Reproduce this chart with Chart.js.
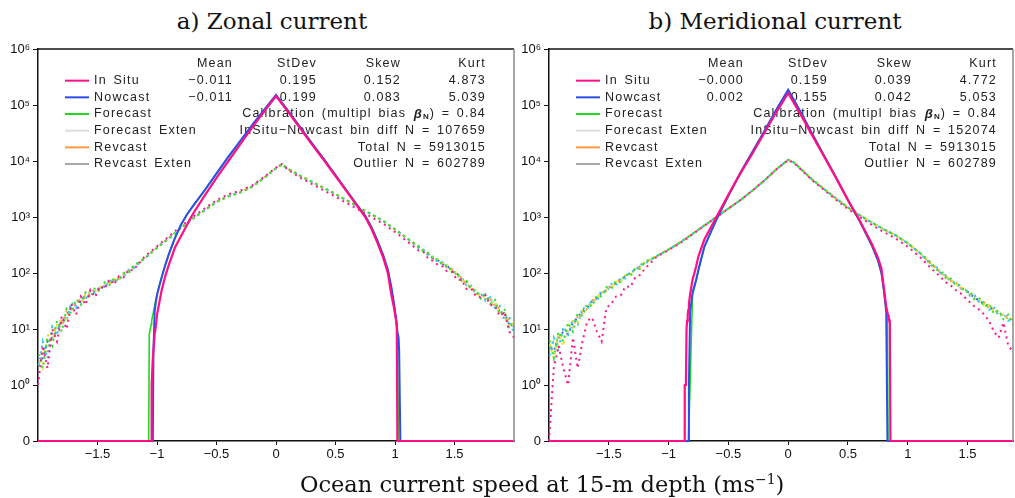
<!DOCTYPE html>
<html>
<head>
<meta charset="utf-8">
<script src="https://cdn.jsdelivr.net/npm/chart.js@4.4.1/dist/chart.umd.min.js"></script>
<style>
  html, body { margin: 0; padding: 0; background: #fff; }
  body { width: 1015px; height: 498px; position: relative; overflow: hidden; }
  canvas { position: absolute; top: 0; }
  #zonalChart { left: 0; }
  #meridChart { left: 511px; }
  .title {
    position: absolute; top: 7px; transform: translateX(-50%);
    font-family: 'DejaVu Serif', serif; font-size: 23px; line-height: 28px;
    color: #111; white-space: nowrap;
  }
  #xTitle { top: 470px; left: 300px; transform: none; font-size: 22.5px; }
  #xTitle sup { font-size: 14px; line-height: 0; }
</style>
</head>
<body>
<div class="title" style="left:272px">a) Zonal current</div>
<div class="title" style="left:775px">b) Meridional current</div>
<canvas id="zonalChart" width="520" height="498"></canvas>
<canvas id="meridChart" width="504" height="498"></canvas>
<div class="title" id="xTitle">Ocean current speed at 15-m depth (ms<sup>−1</sup>)</div>
<script>
// axis ticks
const yTickValues = [0.1, 1, 10, 100, 1e3, 1e4, 1e5, 1e6];
const yTickLabels = ['0', '10⁰', '10¹', '10²', '10³', '10⁴', '10⁵', '10⁶'];
const xTickValues = [-1.5, -1, -0.5, 0, 0.5, 1, 1.5];
const xTickLabels = ['−1.5', '−1', '−0.5', '0', '0.5', '1', '1.5'];

// legend + stats table
const legendNames = ['In Situ', 'Nowcast', 'Forecast', 'Forecast Exten', 'Revcast', 'Revcast Exten'];
const legendColors = ['#ff0f87', '#2b4fe8', '#22d822', '#dedede', '#ff9a40', '#a8a8a8'];
const statHeaders = ['Mean', 'StDev', 'Skew', 'Kurt'];
const zonalInSituStats = ['−0.011', '0.195', '0.152', '4.873'];
const zonalNowcastStats = ['−0.011', '0.199', '0.083', '5.039'];
const meridInSituStats = ['−0.000', '0.159', '0.039', '4.772'];
const meridNowcastStats = ['0.002', '0.155', '0.042', '5.053'];
const calibration = '0.84';
const zonalBinDiff = 107659;
const meridBinDiff = 152074;
const totalN = 5913015;
const outlierN = 602789;

// bin centres of the solid (speed) histograms
const zonalSolidX = [-2.0, -1.07, -1.065, -1.05, -1.045, -1.035, -1.03, -1.02, -1.01, -1.0, -0.98, -0.96, -0.93, -0.9, -0.85, -0.8, -0.75, -0.7, -0.6, -0.5, -0.4, -0.3, -0.2, -0.1, 0, 0.1, 0.2, 0.3, 0.4, 0.5, 0.6, 0.7, 0.75, 0.8, 0.85, 0.9, 0.94, 0.97, 0.99, 1.005, 1.015, 1.02, 1.03, 1.035, 1.045, 2.0];
const zonalInSitu = [0, 0, 0, 0, 1, 3, 4, 8, 11, 18, 30, 50, 89, 141, 282, 447, 708, 1120, 2400, 5000, 10000, 20000, 40000, 76000, 145000, 76000, 39000, 20000, 10500, 5400, 2750, 1400, 1000, 630, 355, 190, 100, 40, 25, 16, 12, 0, 0, 0, 0, 0];
const zonalNowcast = [0, 0, 0, 0, 0, 0, 4, 20, 30, 40, 60, 85, 140, 220, 420, 720, 1100, 1550, 3000, 6000, 12000, 23000, 44000, 82000, 152000, 80000, 41000, 21000, 11000, 5600, 2850, 1450, 1050, 680, 390, 210, 115, 55, 30, 18, 12, 9, 7, 4, 0, 0];
const zonalForecast = [0, 0, 8, 12, 14, 18, 20, 26, 33, 42, 60, 85, 140, 215, 410, 700, 1080, 1530, 2950, 5900, 11800, 22500, 43000, 80000, 148000, 79000, 40500, 20800, 10900, 5550, 2830, 1440, 1040, 670, 385, 205, 112, 52, 28, 16, 10, 7, 0, 0, 0, 0];

const meridSolidX = [-2.0, -0.875, -0.87, -0.865, -0.855, -0.85, -0.845, -0.84, -0.835, -0.83, -0.82, -0.8, -0.77, -0.75, -0.7, -0.6, -0.5, -0.4, -0.3, -0.2, -0.1, 0, 0.1, 0.2, 0.3, 0.4, 0.5, 0.6, 0.7, 0.75, 0.78, 0.8, 0.82, 0.83, 0.835, 0.84, 0.85, 0.855, 0.86, 2.0];
const meridInSitu = [0, 0, 0, 1, 1, 10, 14, 18, 22, 28, 42, 75, 130, 200, 400, 1000, 2500, 6000, 13500, 31600, 74000, 162000, 70000, 29000, 12000, 5000, 2000, 850, 330, 190, 120, 55, 25, 20, 18, 16, 14, 0, 0, 0];
const meridNowcast = [0, 0, 0, 0, 0, 0, 0, 0, 0, 1, 20, 45, 75, 115, 300, 900, 2400, 6200, 14500, 34000, 82000, 188000, 78000, 31000, 12500, 5100, 2000, 830, 310, 170, 100, 50, 20, 0, 0, 0, 0, 0, 0, 0];
const meridForecast = [0, 0, 0, 0, 0, 0, 0, 0, 0, 0, 1, 40, 72, 112, 295, 890, 2380, 6100, 14300, 33500, 81000, 184000, 77000, 30800, 12400, 5050, 1990, 825, 305, 168, 98, 48, 22, 15, 0, 0, 0, 0, 0, 0];

// bin centres of the dotted (wide) histograms: left tail, core, right tail
const tailLeftX = [-2.0, -1.96, -1.92, -1.88, -1.84, -1.80, -1.76, -1.72, -1.68, -1.64, -1.60, -1.56, -1.52, -1.48, -1.44, -1.40, -1.36, -1.32, -1.28, -1.24, -1.20];
const coreX = [-1.1, -1.0, -0.9, -0.8, -0.7, -0.6, -0.5, -0.4, -0.3, -0.2, -0.1, 0, 0.05, 0.1, 0.2, 0.3, 0.4, 0.5, 0.6, 0.7, 0.8, 0.9, 1.0, 1.1];
const tailRightX = [1.20, 1.24, 1.28, 1.32, 1.36, 1.40, 1.44, 1.48, 1.52, 1.56, 1.60, 1.64, 1.68, 1.72, 1.76, 1.80, 1.84, 1.88, 1.92, 1.96, 2.00];

// zonal dotted counts (core is shared where the colours overlap)
const zonalCoreShared = [186, 282, 417, 631, 933, 1318, 1862, 2344, 2754, 3467, 5012, 7413, 8710, 7244, 5495, 4266, 3311, 2570, 1950, 1479, 1122, 851, 603, 417];
const zonalCoreMagenta = [200, 300, 450, 680, 1000, 1420, 2000, 2550, 2950, 3650, 5200, 7600, 8800, 7000, 5100, 3900, 3000, 2300, 1750, 1320, 1000, 760, 540, 370];
const zonalLeftMagenta = [1, 5, 2, 10, 6, 17, 10, 28, 18, 38, 27, 50, 37, 58, 52, 78, 62, 88, 84, 115, 112];
const zonalLeftGreen = [4, 2, 7, 5, 14, 9, 23, 19, 34, 27, 45, 36, 55, 46, 68, 61, 82, 72, 101, 98, 134];
const zonalLeftCyan = [2, 6, 3, 11, 8, 16, 14, 30, 24, 37, 34, 48, 44, 58, 55, 74, 69, 85, 86, 114, 119];
const zonalLeftYellow = [3, 2, 8, 6, 12, 15, 15, 25, 32, 29, 42, 46, 47, 56, 64, 63, 79, 77, 98, 102, 131];
const zonalLeftOrange = [2, 4, 4, 9, 11, 11, 21, 22, 29, 35, 36, 44, 52, 50, 61, 71, 70, 82, 91, 110, 124];
const zonalLeftBlue = [3, 3, 6, 7, 9, 14, 17, 26, 27, 31, 40, 41, 49, 54, 57, 69, 76, 77, 95, 105, 128];
const zonalRightMagenta = [250, 235, 180, 165, 140, 130, 105, 104, 76, 75, 52, 53, 38, 37, 40, 27, 26, 17, 20, 9, 7];
const zonalRightGreen = [300, 240, 228, 175, 176, 137, 138, 104, 102, 72, 72, 50, 50, 35, 42, 28, 33, 18, 23, 10, 14];
const zonalRightCyan = [276, 262, 200, 196, 156, 156, 120, 120, 88, 85, 60, 60, 41, 45, 32, 37, 24, 26, 14, 17, 8];
const zonalRightYellow = [305, 244, 230, 180, 176, 142, 138, 104, 104, 74, 74, 51, 49, 37, 38, 29, 31, 19, 21, 11, 13];
const zonalRightOrange = [285, 255, 208, 191, 160, 152, 124, 117, 90, 83, 62, 58, 42, 43, 34, 35, 25, 24, 15, 15, 9];
const zonalRightBlue = [290, 249, 220, 182, 170, 144, 133, 108, 99, 76, 69, 52, 48, 38, 40, 30, 30, 20, 19, 12, 11];

// meridional dotted counts
const meridCoreShared = [200, 263, 355, 500, 708, 1000, 1413, 1995, 2951, 4467, 7079, 10500, 9330, 7413, 4677, 3162, 2138, 1479, 1072, 794, 603, 468, 339, 229];
const meridCoreMagenta = [195, 256, 345, 490, 700, 990, 1410, 2000, 2950, 4480, 7050, 10400, 9200, 7250, 4550, 3050, 2030, 1390, 990, 720, 540, 410, 295, 195];
const meridLeftMagenta = [0, 2, 5, 2, 1, 7, 2, 6, 14, 16, 9, 6, 24, 28, 38, 40, 58, 56, 82, 92, 118];
const meridLeftGreen = [7, 3, 9, 6, 13, 9, 19, 17, 28, 25, 40, 38, 56, 52, 72, 68, 95, 86, 122, 118, 158];
const meridLeftCyan = [3, 7, 4, 11, 8, 15, 12, 24, 22, 34, 31, 49, 45, 64, 60, 82, 80, 108, 106, 140, 146];
const meridLeftYellow = [6, 3, 8, 5, 12, 14, 13, 22, 27, 27, 38, 42, 53, 54, 70, 71, 92, 94, 120, 126, 156];
const meridLeftOrange = [4, 6, 5, 10, 9, 11, 17, 19, 23, 33, 33, 47, 47, 62, 63, 80, 84, 104, 110, 136, 149];
const meridLeftBlue = [5, 4, 7, 9, 8, 13, 16, 21, 24, 31, 35, 45, 49, 60, 65, 78, 88, 99, 117, 130, 152];
const meridRightMagenta = [118, 100, 82, 68, 60, 50, 44, 36, 30, 25, 22, 18, 14, 9, 7, 13, 5, 4, 10, 5, 7];
const meridRightGreen = [150, 114, 108, 80, 80, 60, 61, 45, 48, 33, 35, 25, 28, 19, 22, 15, 18, 12, 14, 9, 12];
const meridRightCyan = [135, 128, 94, 91, 69, 70, 52, 53, 39, 40, 29, 31, 22, 25, 17, 19, 14, 16, 11, 13, 8];
const meridRightYellow = [146, 117, 105, 82, 78, 62, 59, 47, 46, 34, 34, 26, 27, 20, 21, 16, 17, 13, 13, 10, 11];
const meridRightOrange = [138, 124, 97, 88, 72, 68, 54, 51, 41, 38, 30, 30, 23, 23, 18, 18, 15, 15, 12, 12, 9];
const meridRightBlue = [143, 119, 102, 84, 75, 64, 57, 48, 44, 35, 33, 27, 26, 21, 20, 16, 17, 13, 13, 10, 10];

const AXIS_FLOOR = 0.1; // bottom of the log axis, labelled "0" (empty bins sit here)
const textFont = '"Liberation Sans", Arial, sans-serif';
const dotX = tailLeftX.concat(coreX, tailRightX);

function toPoints(xs, ns) {
    return xs.map((x, i) => ({ x: x, y: ns[i] > 0 ? ns[i] : AXIS_FLOOR }));
}

function solidSet(xs, ns, color, width, order) {
    return {
        data: toPoints(xs, ns), borderColor: color, borderWidth: width,
        pointRadius: 0, tension: 0, order: order, clip: { left: 1, right: 1, top: 0, bottom: 3 }
    };
}

// all dotted sets use the same 6px period; magenta sits in the gaps of the others
function dotSet(left, core, right, color, offset, order) {
    return {
        data: toPoints(dotX, left.concat(core, right)), borderColor: color, borderWidth: 2,
        borderDash: [2, 4], borderDashOffset: offset, borderCapStyle: 'butt',
        pointRadius: 0, tension: 0, order: order, clip: 1
    };
}

function panelText(inSituStats, nowcastStats, binDiff) {
    return {
        id: 'panelText',
        beforeDatasetsDraw(chart) {
            const ctx = chart.ctx;
            const a = chart.chartArea;
            const cols = [195, 279, 363, 448].map(c => a.left + c);
            const rowY = i => a.top + 15 + i * 16.67;
            const font = size => size + 'px ' + textFont;
            ctx.save();
            ctx.textBaseline = 'middle';
            ctx.letterSpacing = '1.2px';
            ctx.wordSpacing = '2px';
            ctx.font = font(12.5);
            ctx.fillStyle = '#222';

            legendNames.forEach((name, i) => {
                const y = rowY(i + 1);
                ctx.strokeStyle = legendColors[i];
                ctx.lineWidth = 2;
                ctx.beginPath();
                ctx.moveTo(a.left + 27, y);
                ctx.lineTo(a.left + 51, y);
                ctx.stroke();
                ctx.textAlign = 'left';
                ctx.fillText(name, a.left + 56, y);
            });

            ctx.textAlign = 'right';
            statHeaders.forEach((h, j) => ctx.fillText(h, cols[j], rowY(0)));
            inSituStats.forEach((v, j) => ctx.fillText(v, cols[j], rowY(1)));
            nowcastStats.forEach((v, j) => ctx.fillText(v, cols[j], rowY(2)));

            // calibration line, drawn right to left for the beta_N symbol
            let x = cols[3];
            const y3 = rowY(3);
            const tail = ') = ' + calibration;
            ctx.fillText(tail, x, y3);
            x -= ctx.measureText(tail).width;
            ctx.font = 'bold 8px ' + textFont;
            ctx.letterSpacing = '0px';
            ctx.fillText('N', x - 1, y3 + 3);
            x -= ctx.measureText('N').width + 2;
            ctx.font = 'bold italic 13px ' + textFont;
            ctx.fillText('β', x, y3);
            x -= ctx.measureText('β').width + 1;
            ctx.font = font(12.5);
            ctx.letterSpacing = '1.2px';
            ctx.fillText('Calibration (multipl bias ', x, y3);

            ctx.fillText('InSitu−Nowcast bin diff N = ' + binDiff, cols[3], rowY(4));
            ctx.fillText('Total N = ' + totalN, cols[3], rowY(5));
            ctx.fillText('Outlier N = ' + outlierN, cols[3], rowY(6));
            ctx.restore();
        },
        afterDraw(chart) {
            const ctx = chart.ctx;
            const a = chart.chartArea;
            ctx.save();
            ctx.lineWidth = 1.5;
            ctx.strokeStyle = '#111';
            ctx.beginPath();
            ctx.moveTo(a.left, a.top);
            ctx.lineTo(a.right, a.top);
            ctx.stroke();
            ctx.strokeStyle = '#8a8a8a';
            ctx.beginPath();
            ctx.moveTo(a.right, a.top);
            ctx.lineTo(a.right, a.bottom);
            ctx.stroke();
            ctx.restore();
        }
    };
}

function makeChart(id, xMax, padRight, datasets, plugin) {
    return new Chart(document.getElementById(id), {
        type: 'line',
        data: { datasets: datasets },
        options: {
            responsive: false,
            animation: false,
            layout: { padding: { top: 49, right: padRight, left: 0, bottom: 0 } },
            plugins: { legend: { display: false }, tooltip: { enabled: false } },
            scales: {
                x: {
                    type: 'linear', min: -2, max: xMax,
                    afterBuildTicks: s => { s.ticks = xTickValues.map(v => ({ value: v })); },
                    afterFit: s => { s.height = 57; },
                    ticks: {
                        callback: v => xTickLabels[xTickValues.indexOf(v)],
                        font: { family: textFont, size: 13 }, color: '#111',
                        padding: 2, maxRotation: 0, autoSkip: false
                    },
                    grid: { drawOnChartArea: false, tickLength: 4, color: '#111' },
                    border: { color: '#111', width: 1.5 }
                },
                y: {
                    type: 'logarithmic', min: AXIS_FLOOR, max: 1e6,
                    afterBuildTicks: s => { s.ticks = yTickValues.map(v => ({ value: v })); },
                    afterFit: s => { s.width = 38; },
                    ticks: {
                        callback: v => yTickLabels[yTickValues.indexOf(v)],
                        font: { family: textFont, size: 13 }, color: '#111',
                        padding: 3, autoSkip: false
                    },
                    grid: { drawOnChartArea: false, tickLength: 5, color: '#111' },
                    border: { color: '#111', width: 1.5 }
                }
            }
        },
        plugins: [plugin]
    });
}

makeChart('zonalChart', 2, 6, [
    solidSet(zonalSolidX, zonalInSitu, '#ff0f87', 2.2, 0),
    solidSet(zonalSolidX, zonalNowcast, '#2b4fe8', 2, 1),
    solidSet(zonalSolidX, zonalForecast, '#22d822', 1.6, 2),
    dotSet(zonalLeftMagenta, zonalCoreMagenta, zonalRightMagenta, '#ff1a8c', 0, 3),
    dotSet(zonalLeftGreen, zonalCoreShared, zonalRightGreen, '#30e030', 3, 4),
    dotSet(zonalLeftYellow, zonalCoreShared, zonalRightYellow, '#e8dc20', 3, 5),
    dotSet(zonalLeftCyan, zonalCoreShared, zonalRightCyan, '#30c8f8', 3, 6),
    dotSet(zonalLeftOrange, zonalCoreShared, zonalRightOrange, '#ffa040', 3, 7),
    dotSet(zonalLeftBlue, zonalCoreShared, zonalRightBlue, '#4060f0', 3, 8)
], panelText(zonalInSituStats, zonalNowcastStats, zonalBinDiff));

makeChart('meridChart', 1.88, 2, [
    solidSet(meridSolidX, meridInSitu, '#ff0f87', 2.2, 0),
    solidSet(meridSolidX, meridNowcast, '#2b4fe8', 2, 1),
    solidSet(meridSolidX, meridForecast, '#22d822', 1.6, 2),
    dotSet(meridLeftMagenta, meridCoreMagenta, meridRightMagenta, '#ff1a8c', 0, 3),
    dotSet(meridLeftGreen, meridCoreShared, meridRightGreen, '#30e030', 3, 4),
    dotSet(meridLeftYellow, meridCoreShared, meridRightYellow, '#e8dc20', 3, 5),
    dotSet(meridLeftCyan, meridCoreShared, meridRightCyan, '#30c8f8', 3, 6),
    dotSet(meridLeftOrange, meridCoreShared, meridRightOrange, '#ffa040', 3, 7),
    dotSet(meridLeftBlue, meridCoreShared, meridRightBlue, '#4060f0', 3, 8)
], panelText(meridInSituStats, meridNowcastStats, meridBinDiff));
</script>
</body>
</html>
